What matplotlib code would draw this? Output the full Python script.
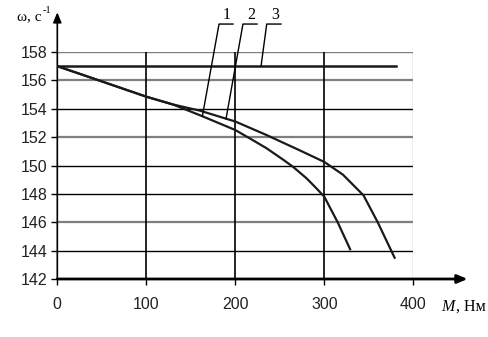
import numpy as np
import matplotlib
matplotlib.use("Agg")
import matplotlib.pyplot as plt

# Data
m1 = [0, 29, 100, 130, 160, 200, 216, 235, 254, 265, 280, 291, 300, 315, 329]
w1 = [157.0, 156.38, 154.85, 154.3, 153.55, 152.5, 151.92, 151.22, 150.4, 149.9, 149.1, 148.4, 147.8, 146.0, 144.1]
m2 = [0, 29, 100, 130, 160, 200, 235, 254, 273, 300, 321, 344, 360, 379]
w2 = [157.0, 156.38, 154.85, 154.3, 153.87, 153.1, 152.15, 151.6, 151.05, 150.25, 149.35, 147.9, 146.0, 143.5]
m3 = [0, 381]
w3 = [157.0, 157.0]

xticks = [0, 100, 200, 300, 400]
yticks = [142, 144, 146, 148, 150, 152, 154, 156, 158]
gray_y = [152, 156, 146, 158]

fig = plt.figure(figsize=(4.89, 3.37), dpi=100)
ax = fig.add_axes([0.1172, 0.1721, 0.8452 - 0.1172, 0.8457 - 0.1721])
ax.set_xlim(0, 400)
ax.set_ylim(142, 158)
for s in ax.spines.values():
    s.set_visible(False)

# grid
for y in yticks[1:]:
    if y in gray_y:
        ax.axhline(y, color="#7f7f7f", lw=1.6 if y != 158 else 1.0, zorder=1)
    else:
        ax.axhline(y, color="black", lw=1.0, zorder=1)
for x in xticks[1:4]:
    ax.axvline(x, color="black", lw=1.2, zorder=1)
ax.axvline(400, color="#7f7f7f", lw=0.9, zorder=1)

# axes with arrows
ax.annotate("", xy=(0, 160.8), xytext=(0, 142), xycoords="data",
            arrowprops=dict(arrowstyle="-|>,head_length=0.6,head_width=0.25", color="black", lw=1.2,
                            shrinkA=0, shrinkB=0), annotation_clip=False)
ax.annotate("", xy=(461, 142), xytext=(0, 142), xycoords="data",
            arrowprops=dict(arrowstyle="-|>,head_length=0.6,head_width=0.25", color="black", lw=2.0,
                            shrinkA=0, shrinkB=0), annotation_clip=False)

# curves
ax.plot(m1, w1, color="#1a1a1a", lw=1.6, zorder=3, solid_joinstyle="round")
ax.plot(m2, w2, color="#1a1a1a", lw=1.6, zorder=3, solid_joinstyle="round")
ax.plot(m3, w3, color="#1a1a1a", lw=1.8, zorder=3)

# ticks
ax.set_xticks(xticks)
ax.set_yticks(yticks)
ax.tick_params(direction="out", length=4, width=1, colors="black",
               labelsize=11.5, pad=3)
ax.tick_params(axis="x", pad=9)
for lab in ax.get_xticklabels() + ax.get_yticklabels():
    lab.set_fontfamily("Liberation Sans")
    lab.set_color("#222222")

# leader labels
lab_y = 159.97
labels = [("1", 181.7, 197.4, 163.0, float(np.interp(163.0, m1, w1))),
          ("2", 208.6, 224.4, 189.6, float(np.interp(189.6, m2, w2))),
          ("3", 235.3, 251.3, 228.9, 157.0)]
for txt, x0, x1, xt, yt in labels:
    ax.plot([x1, x0, xt], [lab_y, lab_y, yt], color="black", lw=1.0, clip_on=False, zorder=4)
    ax.text((x0 + x1) / 2 + 1, lab_y + 0.05, txt, ha="center", va="bottom",
            fontsize=11.5, family="Liberation Serif", clip_on=False)

# axis titles
t = fig.text(0.035, 0.940, "ω, с", fontsize=11, family="Liberation Serif", ha="left", va="baseline")
fig.canvas.draw()
bb = t.get_window_extent()
fig.text(bb.x1 / fig.bbox.width + 0.002, 0.962, "-1", fontsize=7.5, family="Liberation Serif",
         ha="left", va="baseline")
fig.text(0.903, 0.077, "M", fontsize=11.5, family="Liberation Serif", style="italic",
         ha="left", va="baseline")
fig.text(0.932, 0.077, ", Нм", fontsize=11.5, family="Liberation Serif", ha="left", va="baseline")

fig.savefig("out.png", dpi=100)
